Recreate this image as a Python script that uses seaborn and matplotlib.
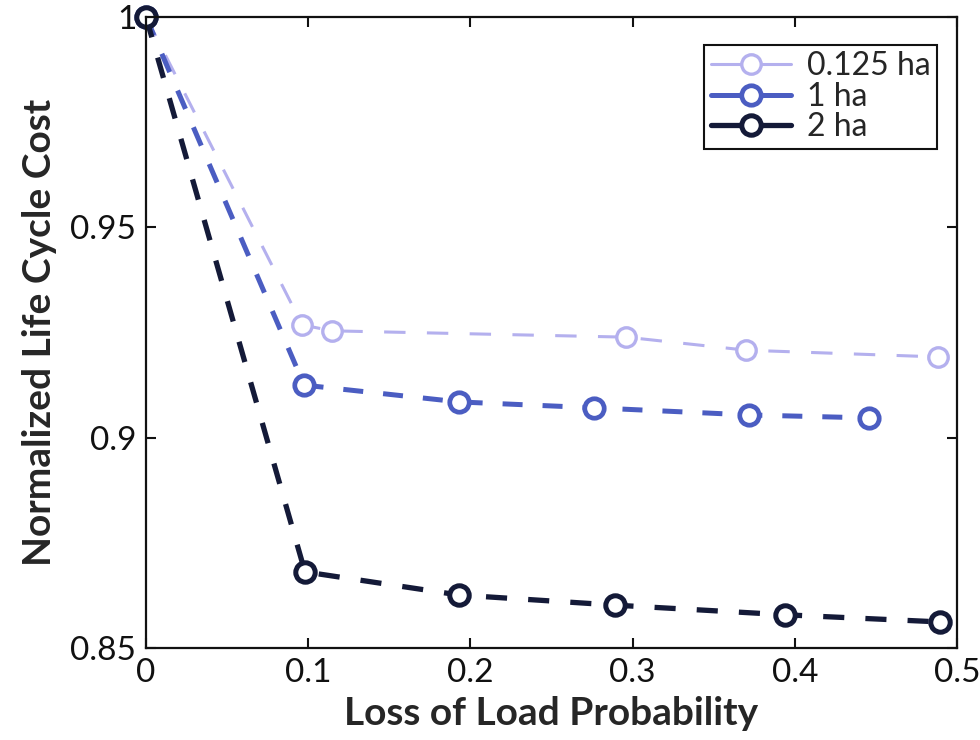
import matplotlib
matplotlib.use("Agg")
import matplotlib.pyplot as plt
import seaborn as sns
import pandas as pd

# ---- data ----
lolp_0125 = [0.0, 0.0963, 0.1148, 0.296, 0.370, 0.488]
cost_0125 = [1.0, 0.9268, 0.9254, 0.9239, 0.9208, 0.9192]

lolp_1 = [0.0, 0.0975, 0.193, 0.2765, 0.372, 0.446]
cost_1 = [1.0, 0.9125, 0.9085, 0.9071, 0.9054, 0.9047]

lolp_2 = [0.0, 0.098, 0.193, 0.289, 0.394, 0.4895]
cost_2 = [1.0, 0.8681, 0.8626, 0.8602, 0.8579, 0.8562]

series_labels = ["0.125 ha", "1 ha", "2 ha"]
x_ticks = [0, 0.1, 0.2, 0.3, 0.4, 0.5]
x_ticklabels = ["0", "0.1", "0.2", "0.3", "0.4", "0.5"]
y_ticks = [0.85, 0.9, 0.95, 1.0]
y_ticklabels = ["0.85", "0.9", "0.95", "1"]

sns.set_style("white")
plt.rcParams["font.family"] = ["Lato", "DejaVu Sans"]

fig = plt.figure(figsize=(9.8, 7.4), dpi=100)
ax = fig.add_axes([0.149, 0.1243, 0.8275, 0.8527])

styles = [
    dict(color="#b4b0ee", lw=2.2, ms=14, mew=2.4, dashes=(7, 7)),
    dict(color="#4b5dc2", lw=3.6, ms=14, mew=3.4, dashes=(4, 4)),
    dict(color="#141a38", lw=3.8, ms=14, mew=3.6, dashes=(4, 4)),
]
data = [(lolp_0125, cost_0125), (lolp_1, cost_1), (lolp_2, cost_2)]

for (xs, ys), lab, st in zip(data, series_labels, styles):
    df = pd.DataFrame({"x": xs, "y": ys})
    sns.lineplot(data=df, x="x", y="y", ax=ax, sort=False, estimator=None,
                 color=st["color"], linewidth=st["lw"], marker="o",
                 markersize=st["ms"], markerfacecolor="white",
                 markeredgecolor=st["color"], markeredgewidth=st["mew"],
                 dashes=False, label=lab, clip_on=False)
    ax.lines[-1].set_dashes(st["dashes"])

ax.set_xlim(0, 0.5)
ax.set_ylim(0.85, 1.0)
ax.set_xticks(x_ticks)
ax.set_xticklabels(x_ticklabels)
ax.set_yticks(y_ticks)
ax.set_yticklabels(y_ticklabels)
ax.tick_params(direction="in", length=7, width=1.5, labelsize=24,
               top=True, right=True, bottom=True, left=True, pad=7,
               colors="#111111")
for sp in ax.spines.values():
    sp.set_visible(True)
    sp.set_color("#111111")
    sp.set_linewidth(1.6)

ax.set_xlabel("Loss of Load Probability", fontsize=28, fontweight="bold",
              labelpad=6)
ax.set_ylabel("Normalized Life Cycle Cost", fontsize=28, fontweight="bold",
              labelpad=10)

leg = ax.legend(loc="upper right", fontsize=23, frameon=True, fancybox=False,
                edgecolor="#111111", framealpha=1, handlelength=2.5,
                borderpad=0.2, labelspacing=0.02, handletextpad=0.5,
                borderaxespad=0, bbox_to_anchor=(0.975, 0.956))
leg.get_frame().set_linewidth(1.5)
for h, st in zip(leg.get_lines(), styles):
    h.set_linestyle("-")

ax.grid(False)
fig.savefig("out.png", dpi=100)
